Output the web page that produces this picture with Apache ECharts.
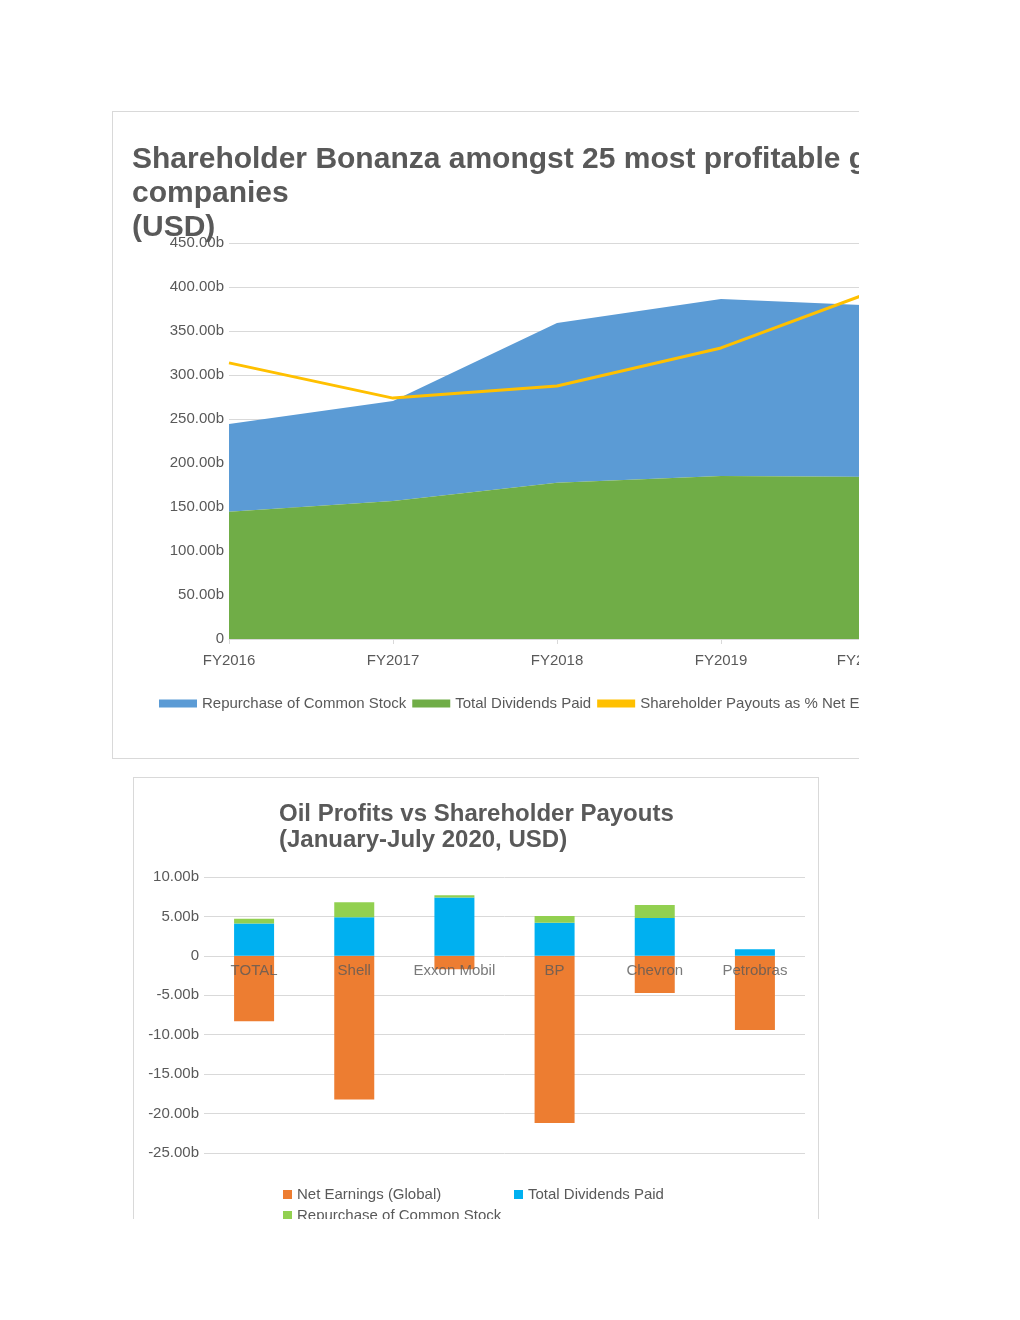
<!DOCTYPE html>
<html>
<head>
<meta charset="utf-8">
<script src="https://cdn.jsdelivr.net/npm/echarts@6/dist/echarts.min.js"></script>
<style>
html,body{margin:0;padding:0;background:#fff;width:1020px;height:1320px;overflow:hidden;}
#w1{position:absolute;left:112px;top:111px;width:746px;height:646px;border-top:1px solid #d9d9d9;border-left:1px solid #d9d9d9;border-bottom:1px solid #d9d9d9;overflow:hidden;}
#c1{position:absolute;left:0;top:0;width:880px;height:646px;}
#w2{position:absolute;left:133px;top:777px;width:684px;height:441px;border-top:1px solid #d9d9d9;border-left:1px solid #d9d9d9;border-right:1px solid #d9d9d9;overflow:hidden;}
#c2{position:absolute;left:0;top:0;width:684px;height:480px;}
</style>
</head>
<body>
<div id="w1"><div id="c1"></div></div>
<div id="w2"><div id="c2"></div></div>
<script>
// ---- Chart 1 data ----
const years = ['FY2016', 'FY2017', 'FY2018', 'FY2019', 'FY2020'];
const dividendsPaid = [144.7, 156.8, 177.6, 185.2, 184.0];
const repurchases = [99.6, 113.7, 181.5, 201.2, 194.3];
const payoutPctNetEarnings = [125.5, 109.5, 115.0, 132.3, 160.0];
const leftTicks = { min: 0, max: 450, interval: 50 };

// ---- Chart 2 data ----
const companies = ['TOTAL', 'Shell', 'Exxon Mobil', 'BP', 'Chevron', 'Petrobras'];
const netEarnings = [-8.3, -18.2, -1.7, -21.2, -4.7, -9.4];
const dividends2020 = [4.1, 4.9, 7.4, 4.2, 4.8, 0.85];
const repurchase2020 = [0.6, 1.9, 0.3, 0.85, 1.65, 0];
const bottomTicks = { min: -25, max: 10, interval: 5 };

const FONT = "'Liberation Sans', Arial, sans-serif";
const TXT = '#595959';
const GRID = '#d9d9d9';
const fmtB = v => v === 0 ? '0' : v.toFixed(2) + 'b';

const c1 = echarts.init(document.getElementById('c1'), null, {renderer: 'canvas'});
c1.setOption({
  animation: false,
  textStyle: {fontFamily: FONT},
  title: {
    text: 'Shareholder Bonanza amongst 25 most profitable global oil\ncompanies\n(USD)',
    left: 14, top: 26,
    textStyle: {fontFamily: FONT, fontSize: 30, fontWeight: 'bold', color: TXT, lineHeight: 34}
  },
  grid: {left: 116, top: 131, width: 656, height: 396},
  legend: {
    left: 41, top: 579, itemWidth: 38, itemHeight: 8, itemGap: 6,
    data: ['Repurchase of Common Stock', 'Total Dividends Paid', 'Shareholder Payouts as % Net Earnings'],
    textStyle: {fontFamily: FONT, fontSize: 15, color: TXT},
    icon: 'rect'
  },
  xAxis: {
    type: 'category', data: years, boundaryGap: false,
    axisLine: {lineStyle: {color: GRID}},
    axisTick: {show: true, length: 5, lineStyle: {color: GRID}},
    axisLabel: {
      color: TXT, fontSize: 15, fontFamily: FONT, margin: 14,
      formatter: (v, i) => i === years.length - 1 ? '{e|' + v + '}' : v,
      rich: {e: {fontSize: 15, fontFamily: FONT, color: TXT, padding: [0, 44, 0, 0]}}
    }
  },
  yAxis: [{
    type: 'value', min: leftTicks.min, max: leftTicks.max, interval: leftTicks.interval,
    axisLine: {show: false}, axisTick: {show: false},
    splitLine: {lineStyle: {color: GRID}},
    axisLabel: {color: TXT, fontSize: 15, fontFamily: FONT, formatter: fmtB, margin: 5, padding: [6, 0, 0, 0]}
  }, {
    type: 'value', min: 0, max: 180, interval: 20, show: false
  }],
  series: [{
    name: 'Total Dividends Paid', type: 'line', stack: 'a', data: dividendsPaid,
    symbol: 'none', lineStyle: {width: 0}, areaStyle: {color: '#70AD47', opacity: 1},
    itemStyle: {color: '#70AD47'}, z: 2
  }, {
    name: 'Repurchase of Common Stock', type: 'line', stack: 'a', data: repurchases,
    symbol: 'none', lineStyle: {width: 0}, areaStyle: {color: '#5B9BD5', opacity: 1},
    itemStyle: {color: '#5B9BD5'}, z: 1
  }, {
    name: 'Shareholder Payouts as % Net Earnings', type: 'line', yAxisIndex: 1,
    data: payoutPctNetEarnings, symbol: 'none',
    lineStyle: {width: 3, color: '#FFC000'}, itemStyle: {color: '#FFC000'}, z: 5
  }]
});

const c2 = echarts.init(document.getElementById('c2'), null, {renderer: 'canvas'});
const legText = {fontFamily: FONT, fontSize: 15, color: TXT};
c2.setOption({
  animation: false,
  textStyle: {fontFamily: FONT},
  title: {
    text: 'Oil Profits vs Shareholder Payouts\n(January-July 2020, USD)',
    left: 140, top: 18,
    textStyle: {fontFamily: FONT, fontSize: 24, fontWeight: 'bold', color: TXT, lineHeight: 26}
  },
  grid: {left: 70, top: 99, width: 601, height: 276},
  legend: [
    {left: 144, top: 404, itemWidth: 9, itemHeight: 9, icon: 'rect', data: ['Net Earnings (Global)'], textStyle: legText},
    {left: 375, top: 404, itemWidth: 9, itemHeight: 9, icon: 'rect', data: ['Total Dividends Paid'], textStyle: legText},
    {left: 144, top: 425, itemWidth: 9, itemHeight: 9, icon: 'rect', data: ['Repurchase of Common Stock'], textStyle: legText}
  ],
  xAxis: {
    type: 'category', data: companies,
    axisLine: {show: false},
    axisTick: {show: false},
    axisLabel: {show: false}
  },
  yAxis: {
    type: 'value', min: bottomTicks.min, max: bottomTicks.max, interval: bottomTicks.interval,
    axisLine: {show: false}, axisTick: {show: false},
    splitLine: {lineStyle: {color: GRID}},
    axisLabel: {color: TXT, fontSize: 15, fontFamily: FONT, formatter: fmtB, margin: 5, padding: [6, 0, 0, 0]}
  },
  series: [{
    name: 'Net Earnings (Global)', type: 'bar', stack: 's', data: netEarnings,
    barWidth: 40, itemStyle: {color: '#ED7D31'}
  }, {
    name: 'Total Dividends Paid', type: 'bar', stack: 's', data: dividends2020,
    barWidth: 40, itemStyle: {color: '#00B0F0'}
  }, {
    name: 'Repurchase of Common Stock', type: 'bar', stack: 's', data: repurchase2020,
    barWidth: 40, itemStyle: {color: '#92D050'}
  }, {
    name: 'categoryLabels', type: 'scatter', z: 10, silent: true,
    data: companies.map(c => [c, 0]),
    symbolSize: 1, itemStyle: {color: 'rgba(0,0,0,0)'},
    label: {
      show: true, position: 'bottom', distance: 7,
      formatter: p => p.value[0],
      color: TXT, fontSize: 15, fontFamily: FONT
    }
  }]
});
</script>
</body>
</html>
